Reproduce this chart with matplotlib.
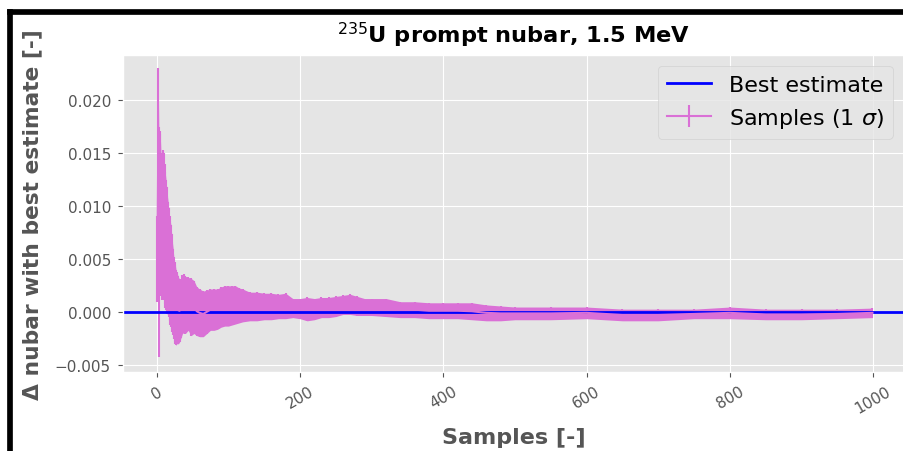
import matplotlib.pyplot as plt
import numpy as np
from matplotlib.patches import Rectangle

# sample index, and the top / bottom of the 1 sigma band
samples = [1, 2, 3, 4, 5, 6, 7, 8, 9, 10, 11, 12, 13, 14, 15, 16, 17, 18, 19, 20,
           21, 22, 23, 24, 25, 26, 27, 28, 29, 30, 32, 34, 36, 38, 40, 44, 48, 52,
           56, 60, 65, 70, 75, 80, 85, 90, 95, 100, 105, 110, 115, 120, 130, 140,
           150, 160, 170, 180, 190, 200, 210, 220, 230, 240, 250, 260, 270, 280,
           290, 300, 320, 340, 360, 380, 400, 420, 440, 460, 480, 500, 550, 600,
           650, 700, 750, 800, 850, 900, 950, 999]
upper = [0.0091, 0.0230, 0.0175, 0.0171, 0.0168, 0.0150, 0.0146, 0.0142, 0.0153, 0.0150,
         0.0140, 0.0132, 0.0125, 0.0118, 0.0110, 0.0104, 0.0098, 0.0091, 0.0086, 0.0082,
         0.0074, 0.0066, 0.0060, 0.0052, 0.0047, 0.0045, 0.0040, 0.0038, 0.0036, 0.0034,
         0.0031, 0.0031, 0.0035, 0.0036, 0.0034, 0.0033, 0.0032, 0.0030, 0.0024, 0.0022,
         0.0020, 0.0021, 0.0022, 0.0022, 0.0022, 0.0024, 0.0025, 0.0025, 0.0025, 0.0025,
         0.0023, 0.0022, 0.0019, 0.0019, 0.0018, 0.0018, 0.0017, 0.0018, 0.0013, 0.0013,
         0.0014, 0.0013, 0.0014, 0.0014, 0.0015, 0.0016, 0.0017, 0.0015, 0.0013, 0.0013,
         0.0013, 0.0010, 0.0010, 0.0009, 0.0009, 0.0009, 0.0009, 0.0007, 0.0006, 0.0005,
         0.0005, 0.0005, 0.0003, 0.0003, 0.0003, 0.0005, 0.0003, 0.0003, 0.0003, 0.0004]
lower = [0.0010, 0.0040, -0.0042, 0.0035, 0.0025, 0.0015, 0.0012, 0.0020, 0.0018, 0.0012,
         0.0008, 0.0004, 0.0002, 0.0000, -0.0002, -0.0002, -0.0004, -0.0008, -0.0012, -0.0014,
         -0.0016, -0.0019, -0.0021, -0.0025, -0.0028, -0.0030, -0.0031, -0.0030, -0.0029, -0.0030,
         -0.0028, -0.0024, -0.0020, -0.0019, -0.0020, -0.0017, -0.0022, -0.0020, -0.0022, -0.0023,
         -0.0023, -0.0020, -0.0017, -0.0017, -0.0016, -0.0014, -0.0013, -0.0013, -0.0012, -0.0011,
         -0.0010, -0.0009, -0.0008, -0.0008, -0.0007, -0.0007, -0.0006, -0.0006, -0.0005, -0.0006,
         -0.0008, -0.0007, -0.0005, -0.0005, -0.0004, -0.0002, -0.0002, -0.0003, -0.0003, -0.0003,
         -0.0004, -0.0005, -0.0005, -0.0006, -0.0006, -0.0006, -0.0007, -0.0008, -0.0008, -0.0007,
         -0.0007, -0.0006, -0.0008, -0.0008, -0.0006, -0.0006, -0.0007, -0.0007, -0.0006, -0.0005]
best_estimate = 0.0

x = np.array(samples)
hi = np.array(upper)
lo = np.array(lower)
mean = (hi + lo) / 2
sigma = (hi - lo) / 2

plt.style.use("ggplot")
fig = plt.figure(figsize=(9.04, 4.52), dpi=100)
ax = fig.add_axes([122.7 / 904, 1 - 372.7 / 452, (904 - 122.7) / 904, (372.7 - 55.7) / 452])

ax.fill_between(x, lo, hi, color="orchid", lw=0)
ax.errorbar(x, mean, yerr=sigma, color="orchid", label=r"Samples (1 $\sigma$)")
ax.axhline(best_estimate, color="blue", lw=2, label="Best estimate")

ax.set_xlim(-47.4, 1043)
ax.set_ylim(-0.0056, 0.0243)
ax.set_yticks([-0.005, 0.0, 0.005, 0.010, 0.015, 0.020])
ax.tick_params(axis="both", labelsize=11, pad=5)
ax.tick_params(axis="x", labelrotation=30)

ax.set_title(r"$^{235}$U prompt nubar, 1.5 MeV", fontsize=16.2, fontweight="bold", pad=9)
ax.set_xlabel("Samples [-]", fontsize=16, fontweight="bold", labelpad=8)
ax.set_ylabel("Δ nubar with best estimate [-]", fontsize=15.7, fontweight="bold", labelpad=9)
ax.legend(loc="upper right", fontsize=16)

# black frame of the screenshot (top and left edges)
fig.add_artist(Rectangle((7 / 904, 1 - 15 / 452), 1, 5 / 452, color="black",
                         transform=fig.transFigure))
fig.add_artist(Rectangle((7 / 904, 0), 5 / 904, 1 - 10 / 452, color="black",
                         transform=fig.transFigure))

fig.savefig("out.png", dpi=100, facecolor="white")
